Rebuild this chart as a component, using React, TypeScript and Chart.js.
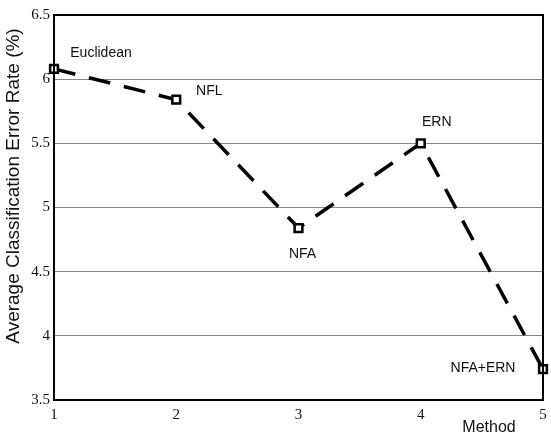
import React, { useEffect, useRef } from "react";
import { Chart, registerables } from "chart.js";
Chart.register(...registerables);

const methods = [1, 2, 3, 4, 5];
const errorRates = [6.08, 5.84, 4.84, 5.5, 3.74];
const methodNames = ["Euclidean", "NFL", "NFA", "ERN", "NFA+ERN"];
const yTicks = [3.5, 4, 4.5, 5, 5.5, 6, 6.5];

const labelOffsets: [number, number][] = [
  [47, -16],
  [33, -9],
  [4, 26],
  [16, -21],
  [-60, -1],
];

const decor = {
  id: "decor",
  afterDatasetsDraw(chart: any) {
    const { ctx, chartArea, scales } = chart;
    ctx.save();
    ctx.strokeStyle = "#000";
    ctx.lineWidth = 2;
    ctx.strokeRect(chartArea.left, chartArea.top, chartArea.right - chartArea.left, chartArea.bottom - chartArea.top);
    ctx.fillStyle = "#111";
    ctx.textAlign = "center";
    ctx.textBaseline = "middle";
    ctx.font = "15px 'Liberation Serif', serif";
    scales.x.ticks.forEach((t: any) => {
      ctx.fillText(String(t.value), scales.x.getPixelForValue(t.value), chartArea.bottom + 15);
    });
    ctx.font = "14px 'Liberation Sans', sans-serif";
    methods.forEach((m, i) => {
      const x = scales.x.getPixelForValue(m);
      const y = scales.y.getPixelForValue(errorRates[i]);
      ctx.fillText(methodNames[i], x + labelOffsets[i][0], y + labelOffsets[i][1]);
    });
    ctx.font = "16px 'Liberation Sans', sans-serif";
    ctx.fillText("Method", 489, 428);
    ctx.translate(14, 186);
    ctx.rotate(-Math.PI / 2);
    ctx.font = "19px 'Liberation Sans', sans-serif";
    ctx.fillText("Average Classification Error Rate (%)", 0, 0);
    ctx.restore();
  },
};

export default function App() {
  const ref = useRef<HTMLCanvasElement>(null);
  useEffect(() => {
    document.body.style.margin = "0";
    const chart = new Chart(ref.current!, {
      type: "line",
      data: {
        datasets: [
          {
            data: methods.map((m, i) => ({ x: m, y: errorRates[i] })),
            borderColor: "#000",
            borderWidth: 3.5,
            borderDash: [22, 14],
            pointStyle: "rect",
            pointRadius: 5.5,
            pointBorderWidth: 2.5,
            pointBorderColor: "#000",
            pointBackgroundColor: "#fff",
            tension: 0,
            clip: false,
          },
        ],
      },
      plugins: [decor],
      options: {
        animation: false,
        responsive: false,
        layout: { padding: { top: 15, right: 0, left: 0, bottom: 0 } },
        plugins: { legend: { display: false }, tooltip: { enabled: false } },
        scales: {
          x: {
            type: "linear",
            min: 1,
            max: 5,
            afterBuildTicks: (s: any) => {
              s.ticks = methods.map((v) => ({ value: v }));
            },
            afterFit: (s: any) => {
              s.height = 41;
            },
            grid: { display: false },
            border: { display: false },
            ticks: { display: false },
          },
          y: {
            min: 3.5,
            max: 6.5,
            afterBuildTicks: (s: any) => {
              s.ticks = yTicks.map((v) => ({ value: v }));
            },
            afterFit: (s: any) => {
              s.width = 54;
            },
            grid: { color: "#888", lineWidth: 1, drawTicks: false },
            border: { display: false },
            ticks: {
              color: "#111",
              font: { family: "'Liberation Serif', serif", size: 15 },
              padding: 4,
              callback: (v: any) => String(v),
            },
          },
        },
      },
    });
    return () => chart.destroy();
  }, []);
  return (
    <div style={{ width: 551, height: 441 }}>
      <canvas ref={ref} width={551} height={441} />
    </div>
  );
}
